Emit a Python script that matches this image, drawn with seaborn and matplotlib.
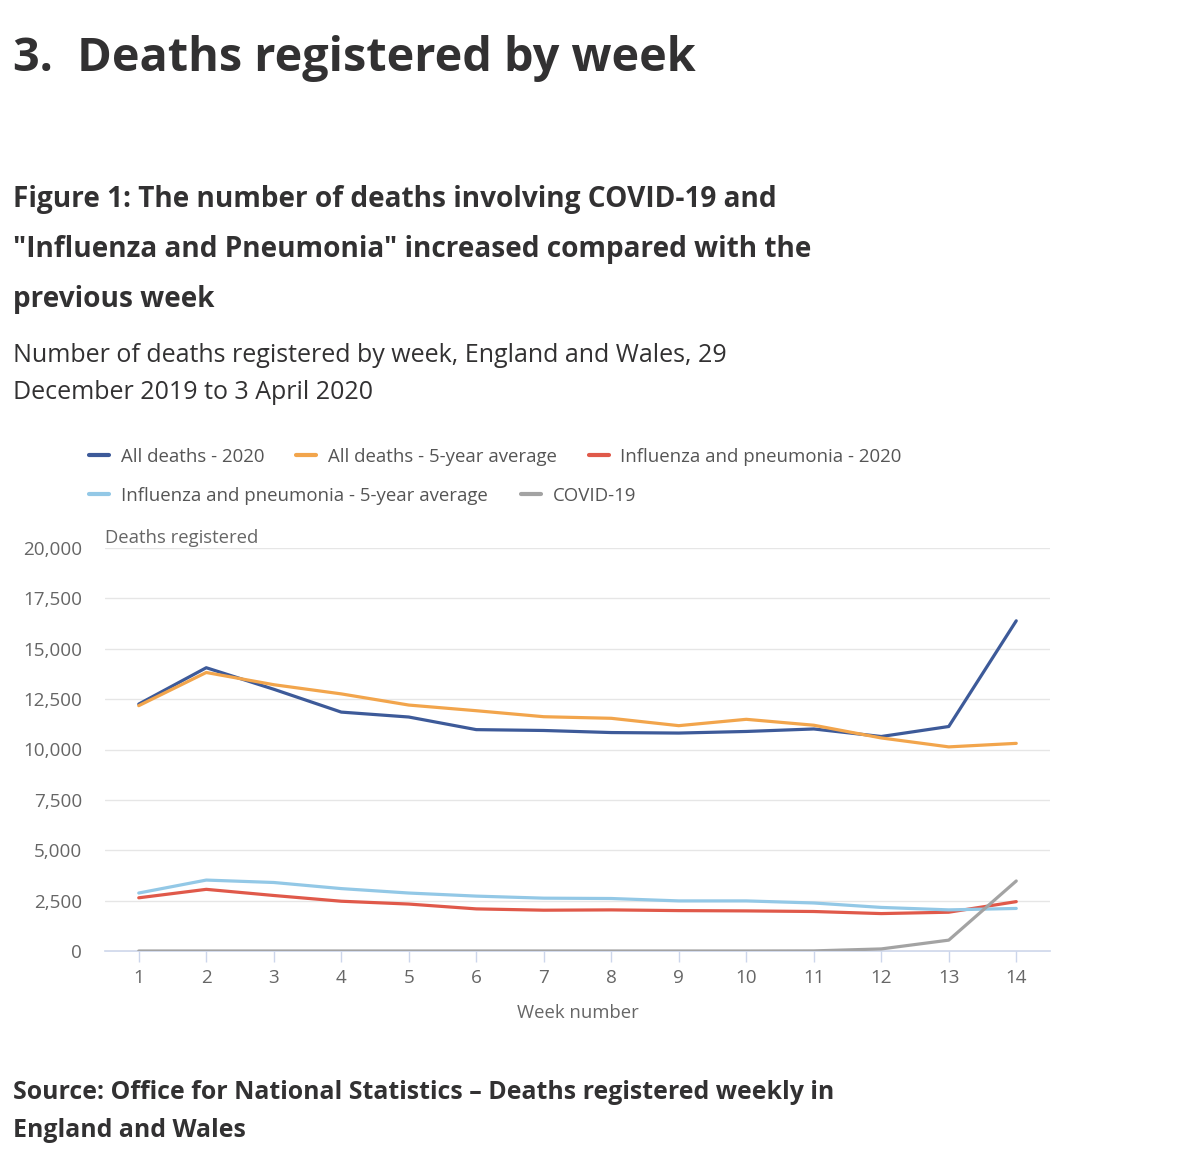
import matplotlib
matplotlib.use("Agg")
import matplotlib.pyplot as plt
from matplotlib.lines import Line2D
from matplotlib.ticker import FuncFormatter, FixedLocator
import seaborn as sns
import pandas as pd

# ---------------- data ----------------
weeks = list(range(1, 15))
all_deaths_2020 = [12254, 14058, 12990, 11856, 11612, 10986, 10944, 10841, 10816, 10895, 11019, 10645, 11141, 16387]
all_deaths_5yr = [12175, 13822, 13216, 12760, 12206, 11925, 11627, 11548, 11183, 11498, 11205, 10573, 10130, 10305]
flu_2020 = [2640, 3060, 2755, 2470, 2330, 2090, 2025, 2040, 2005, 1990, 1960, 1857, 1925, 2450]
flu_5yr = [2877, 3520, 3400, 3097, 2877, 2724, 2622, 2605, 2486, 2486, 2383, 2163, 2041, 2112]
covid = [0, 0, 0, 0, 0, 0, 0, 0, 0, 0, 5, 103, 539, 3475]

series_names = ["All deaths - 2020", "All deaths - 5-year average",
                "Influenza and pneumonia - 2020",
                "Influenza and pneumonia - 5-year average", "COVID-19"]
series_values = [all_deaths_2020, all_deaths_5yr, flu_2020, flu_5yr, covid]
colors = ["#3d5a99", "#f2a54c", "#e0594a", "#93c8e6", "#a3a3a3"]
y_ticks = [0, 2500, 5000, 7500, 10000, 12500, 15000, 17500, 20000]

title = "3.  Deaths registered by week"
fig_title_lines = ["Figure 1: The number of deaths involving COVID-19 and",
                   "\"Influenza and Pneumonia\" increased compared with the",
                   "previous week"]
subtitle_lines = ["Number of deaths registered by week, England and Wales, 29",
                  "December 2019 to 3 April 2020"]
source_lines = ["Source: Office for National Statistics \u2013 Deaths registered weekly in",
                "England and Wales"]

rows = []
for name, vals in zip(series_names, series_values):
    for w, v in zip(weeks, vals):
        rows.append({"week": w, "deaths": v, "series": name})
df = pd.DataFrame(rows)

# ---------------- style ----------------
sns.set_theme(style="white")
plt.rcParams['font.family'] = ['Open Sans', 'DejaVu Sans']

W, H = 1200, 1173
fig = plt.figure(figsize=(W / 100, H / 100), dpi=100)

def fx(x):
    return x / W

def fy(y):
    return 1 - y / H

ax = fig.add_axes([fx(105), fy(951), fx(1050) - fx(105), fy(548) - fy(951)])

sns.lineplot(data=df, x="week", y="deaths", hue="series", hue_order=series_names,
             palette=colors, linewidth=2.3, ax=ax, legend=False)

ax.set_xlim(0.5, 14.5)
ax.set_ylim(0, 20000)
ax.yaxis.set_major_locator(FixedLocator(y_ticks))
ax.yaxis.set_major_formatter(FuncFormatter(lambda v, p: f"{int(v):,}"))
ax.set_xticks(weeks)
ax.set_xticklabels([str(w) for w in weeks])

for s in ["top", "right", "left"]:
    ax.spines[s].set_visible(False)
ax.spines["bottom"].set_color("#ccd6eb")
ax.spines["bottom"].set_linewidth(1.2)
ax.spines["bottom"].set_zorder(0.5)

ax.grid(axis="y", color="#e6e6e6", linewidth=1.0)
ax.grid(axis="x", visible=False)
ax.set_axisbelow(True)

ax.tick_params(axis="y", length=0, pad=16.5, labelsize=13.6, labelcolor="#666666")
ax.tick_params(axis="x", length=8, width=1, color="#ccd6eb", pad=5,
               labelsize=13.6, labelcolor="#666666", bottom=True)

ax.set_xlabel("Week number", fontsize=13.3, color="#666666", labelpad=12)
ax.set_ylabel("")
fig.text(fx(105), fy(543), "Deaths registered", fontsize=13.3, color="#666666",
         ha="left", va="baseline")

# ---------------- legend ----------------
handles = [Line2D([0], [0], color=c, linewidth=3) for c in colors]
leg_kw = dict(frameon=False, fontsize=13.45, handlelength=1.07, handletextpad=0.62,
              borderpad=0, borderaxespad=0, labelcolor="#555555")
leg1 = fig.legend(handles[:3], series_names[:3], ncol=3, loc="center left",
                  bbox_to_anchor=(fx(89), fy(457)), columnspacing=1.72, **leg_kw)
leg2 = fig.legend(handles[3:], series_names[3:], ncol=2, loc="center left",
                  bbox_to_anchor=(fx(89), fy(496)), columnspacing=1.82, **leg_kw)

# ---------------- headings ----------------
dark = "#323132"
fig.text(fx(13), fy(71), title, fontsize=33.7, fontweight="bold", color=dark,
         ha="left", va="baseline")
for i, line in enumerate(fig_title_lines):
    fig.text(fx(13), fy(207 + 50 * i), line, fontsize=20.2, fontweight="bold",
             color=dark, ha="left", va="baseline")
for i, line in enumerate(subtitle_lines):
    fig.text(fx(13), fy(362 + 37 * i), line, fontsize=18, color=dark,
             ha="left", va="baseline")
for i, line in enumerate(source_lines):
    fig.text(fx(13), fy(1099 + 38 * i), line, fontsize=17.9, fontweight="bold",
             color=dark, ha="left", va="baseline")

fig.savefig("out.png", dpi=100, facecolor="white")
